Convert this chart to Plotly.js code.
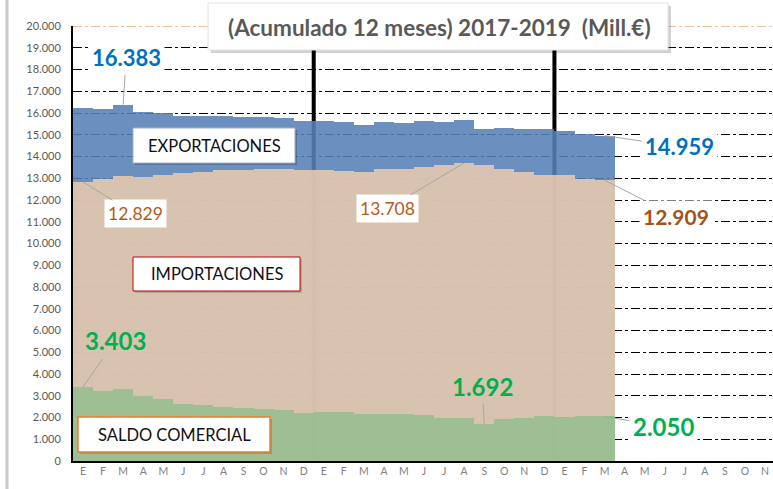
<!DOCTYPE html>
<html>
<head>
<meta charset="utf-8">
<script src="https://cdn.plot.ly/plotly-3.0.1.min.js"></script>
<style>
  html, body { margin: 0; padding: 0; background: #ffffff; }
  #chart { width: 773px; height: 489px; }
</style>
</head>
<body>
<div id="chart"></div>
<script>
// ---- Data (Mill. €, acumulado 12 meses) ----
const monthLetters = ['E','F','M','A','M','J','J','A','S','O','N','D'];
const tickLabels = monthLetters.concat(monthLetters, monthLetters); // 2017, 2018, 2019
const exportaciones = [16232,16180,16383,16050,16000,15870,15880,15850,15830,15820,15760,15620,
                       15640,15590,15434,15590,15560,15630,15590,15685,15280,15330,15250,15250,
                       15160,15035,14959];
const importaciones = [12829,12960,13086,13060,13170,13240,13310,13360,13390,13410,13430,13390,
                       13370,13320,13290,13443,13411,13517,13627,13708,13588,13411,13290,13168,
                       13136,12984,12909];
const saldoComercial = [3403,3220,3297,2990,2830,2630,2570,2490,2440,2410,2330,2230,
                        2270,2270,2144,2147,2149,2113,1963,1977,1692,1919,1960,2082,
                        2024,2051,2050];
const yTicks = [0,1000,2000,3000,4000,5000,6000,7000,8000,9000,10000,
                11000,12000,13000,14000,15000,16000,17000,18000,19000,20000];

const idx = exportaciones.map((_, i) => i);
const tickIdx = tickLabels.map((_, i) => i);

const FONT = 'Lato, "Open Sans", sans-serif';

function bar(name, vals, color) {
  return {
    type: 'bar', name: name, x: idx, y: vals,
    marker: { color: color, line: { width: 0 } },
    hoverinfo: 'skip'
  };
}

const traces = [
  bar('EXPORTACIONES', exportaciones, 'rgba(87,129,182,0.88)'),
  bar('IMPORTACIONES', importaciones, 'rgba(231,202,175,0.88)'),
  bar('SALDO COMERCIAL', saldoComercial, 'rgba(149,189,144,0.88)')
];

// pixel helpers (plot area: left 73, top 26, width 700, height 435)
const L = 73, T = 26, W = 700, H = 435;
const px = v => (v - L) / W;
const py = v => (T + H - v) / H;

function boxShape(x0, y0, x1, y1, line, lw) {
  return { type: 'rect', xref: 'paper', yref: 'paper', layer: 'above',
           x0: px(x0), x1: px(x1), y0: py(y1), y1: py(y0),
           fillcolor: '#ffffff', line: { color: line, width: lw } };
}
function shadowShape(x0, y0, x1, y1, d, a) {
  return { type: 'rect', xref: 'paper', yref: 'paper', layer: 'above',
           x0: px(x0 + d), x1: px(x1 + d), y0: py(y1 + d), y1: py(y0 + d),
           fillcolor: 'rgba(0,0,0,' + a + ')', line: { width: 0 } };
}

const shapes = [
  // year separators
  { type: 'line', xref: 'x', yref: 'paper', layer: 'below', x0: 11.5, x1: 11.5, y0: 0, y1: py(20),
    line: { color: '#000000', width: 4 } },
  { type: 'line', xref: 'x', yref: 'paper', layer: 'below', x0: 23.5, x1: 23.5, y0: 0, y1: py(20),
    line: { color: '#000000', width: 4 } },
  // orange 20.000 line
  { type: 'line', xref: 'paper', yref: 'y', layer: 'above', x0: 0, x1: 1, y0: 20000, y1: 20000,
    line: { color: '#E8803A', width: 1, dash: 'dashdot' } },
  // page edge on the left
  { type: 'line', xref: 'paper', yref: 'paper', layer: 'above', x0: px(7), x1: px(7), y0: py(489), y1: py(0),
    line: { color: '#C8C8C8', width: 3 } },
  // title box
  shadowShape(208, 3, 668, 50, 3, 0.18),
  boxShape(208, 3, 668, 50, '#E4E4E4', 1),
  // label boxes
  shadowShape(133, 128, 295, 163, 2, 0.2),
  boxShape(133, 128, 295, 163, '#9DB3CF', 1),
  shadowShape(133, 257, 300, 291, 2, 0.15),
  boxShape(133, 257, 300, 291, '#C00000', 1),
  shadowShape(78, 417, 270, 452, 2, 0.15),
  boxShape(78, 417, 270, 452, '#ED7D31', 1.5)
];

function lab(x, y, text, color, size, bold, ax, ay, bg) {
  return {
    x: x, y: y, xref: 'x', yref: 'y', text: bold ? '<b>' + text + '</b>' : text,
    showarrow: true, arrowhead: 0, arrowwidth: 1, arrowcolor: '#A6A6A6',
    ax: ax, ay: ay, font: { family: FONT, size: size, color: color },
    bgcolor: bg || 'rgba(0,0,0,0)', borderpad: 3
  };
}
function paperText(cx, cy, text, size, color, bold) {
  return { xref: 'paper', yref: 'paper', x: px(cx), y: py(cy), xanchor: 'center', yanchor: 'middle',
           showarrow: false, text: bold ? '<b>' + text + '</b>' : text,
           font: { family: FONT, size: size, color: color } };
}

const annotations = [
  paperText(440, 27, '(Acumulado 12 meses) 2017-2019 \u00a0(Mill.€)', 22.5, '#595959', true),
  paperText(214, 146, 'EXPORTACIONES', 16.5, '#111111', false),
  paperText(216.5, 274, 'IMPORTACIONES', 16.5, '#111111', false),
  paperText(174, 435, 'SALDO COMERCIAL', 16.5, '#111111', false),
  lab(2, exportaciones[2], '16.383', '#0070C0', 22, true, 3, -47, '#ffffff'),
  lab(26, exportaciones[26], '14.959', '#0070C0', 22, true, 75, 11, '#ffffff'),
  lab(0, importaciones[0], '12.829', '#B35A1B', 17.5, false, 52, 32, '#ffffff'),
  lab(19, importaciones[19], '13.708', '#B35A1B', 17.5, false, -77, 46, '#ffffff'),
  lab(26, importaciones[26], '12.909', '#A5511A', 21, true, 71, 36, '#ffffff'),
  lab(0, saldoComercial[0], '3.403', '#00B050', 24, true, 32, -46),
  lab(20, saldoComercial[20], '1.692', '#00B050', 24, true, -2, -38),
  lab(26, saldoComercial[26], '2.050', '#00B050', 24, true, 59, 10, '#ffffff')
];

const layout = {
  width: 773, height: 489,
  margin: { l: L, r: 773 - L - W, t: T, b: 489 - T - H, pad: 0 },
  paper_bgcolor: '#ffffff', plot_bgcolor: '#ffffff',
  separators: ',.',
  showlegend: false,
  barmode: 'overlay', bargap: 0,
  font: { family: FONT, color: '#595959' },
  xaxis: {
    range: [-0.5, -0.5 + W / 20.06],
    tickmode: 'array', tickvals: tickIdx, ticktext: tickLabels,
    tickfont: { family: FONT, size: 10.5, color: '#7F7F7F' },
    showgrid: false, zeroline: false,
    showline: true, linecolor: '#000000', linewidth: 1.5,
    ticks: '', fixedrange: true
  },
  yaxis: {
    range: [0, 20000],
    tickmode: 'array', tickvals: yTicks, tickformat: ',d',
    tickfont: { family: FONT, size: 11, color: '#595959' },
    showgrid: true, gridcolor: '#000000', gridwidth: 1, griddash: 'dashdot',
    zeroline: false, showline: true, linecolor: '#000000', linewidth: 2,
    ticks: '', ticklabelstandoff: 8, fixedrange: true
  },
  shapes: shapes,
  annotations: annotations
};

Plotly.newPlot('chart', traces, layout, { displayModeBar: false, staticPlot: true });
</script>
</body>
</html>
